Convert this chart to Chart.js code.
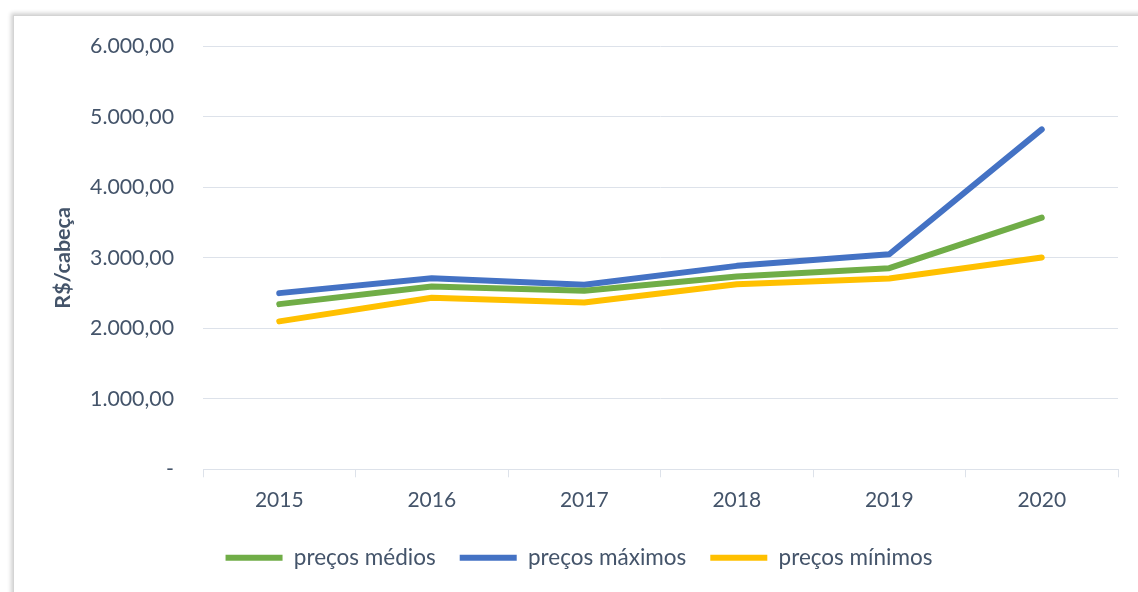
<!DOCTYPE html>
<html>
<head>
<meta charset="utf-8">
<script src="https://cdn.jsdelivr.net/npm/chart.js@4/dist/chart.umd.min.js"></script>
<style>
  html, body { margin: 0; padding: 0; background: #ffffff; overflow: hidden; }
  #frame { position: absolute; left: 13px; top: 15px; width: 1200px; height: 700px;
           border: 1px solid #d4d4d4; box-shadow: 0 0 4px 2px rgba(0,0,0,0.18); background: #fff; }
  #wrap { position: absolute; left: 0; top: 0; width: 1138px; height: 592px; }
</style>
</head>
<body>
<div id="frame"></div>
<div id="wrap"><canvas id="c" width="1138" height="592"></canvas></div>
<script>
const categories = ['2015', '2016', '2017', '2018', '2019', '2020'];
const precosMedios = [2344, 2595, 2533, 2737, 2854, 3572];
const precosMaximos = [2500, 2712, 2618, 2887, 3052, 4823];
const precosMinimos = [2099, 2434, 2368, 2627, 2708, 3006];
const yTickLabels = ['-', '1.000,00', '2.000,00', '3.000,00', '4.000,00', '5.000,00', '6.000,00'];
const seriesNames = ['preços médios', 'preços máximos', 'preços mínimos'];
const yTitle = 'R$/cabeça';

const textColor = '#44546A';
const gridColor = '#dde2ea';
const fontFamily = 'Lato, "Open Sans", sans-serif';

function ds(label, data, color) {
  return {
    label, data,
    borderColor: color, backgroundColor: color,
    borderWidth: 6, pointRadius: 0, tension: 0,
    borderCapStyle: 'round', borderJoinStyle: 'round',
    pointStyle: 'line'
  };
}

new Chart(document.getElementById('c'), {
  type: 'line',
  data: {
    labels: categories,
    datasets: [
      ds(seriesNames[0], precosMedios, '#70AD47'),
      ds(seriesNames[1], precosMaximos, '#4472C4'),
      ds(seriesNames[2], precosMinimos, '#FFC000')
    ]
  },
  options: {
    responsive: false,
    animation: false,
    layout: { padding: { left: 40, right: 20, top: 46.5, bottom: 13 } },
    plugins: {
      tooltip: { enabled: false },
      legend: {
        position: 'bottom',
        labels: {
          color: textColor,
          font: { family: fontFamily, size: 22.5 },
          usePointStyle: true, pointStyleWidth: 57,
          boxHeight: 6, padding: 24,
          generateLabels(chart) {
            const items = Chart.defaults.plugins.legend.labels.generateLabels(chart);
            items.forEach(i => { i.lineCap = 'butt'; });
            return items;
          }
        }
      }
    },
    scales: {
      x: {
        offset: true,
        grid: { offset: true, drawOnChartArea: false, drawTicks: true, tickLength: 8, color: gridColor },
        border: { color: gridColor, width: 1 },
        ticks: { color: textColor, font: { family: fontFamily, size: 21 }, padding: 10 }
      },
      y: {
        min: 0, max: 6000,
        afterFit(scale) { scale.width = 163; },
        grid: { drawTicks: false, color: gridColor, lineWidth: 1 },
        border: { display: false },
        ticks: {
          stepSize: 1000, padding: 29, color: textColor,
          font: { family: fontFamily, size: 21.3 },
          callback: (v) => yTickLabels[Math.round(v / 1000)]
        },
        title: {
          display: true, text: yTitle, color: textColor,
          font: { family: fontFamily, size: 21.5, weight: 'bold' },
          padding: { top: 10, bottom: 0 }
        }
      }
    }
  }
});
</script>
</body>
</html>
